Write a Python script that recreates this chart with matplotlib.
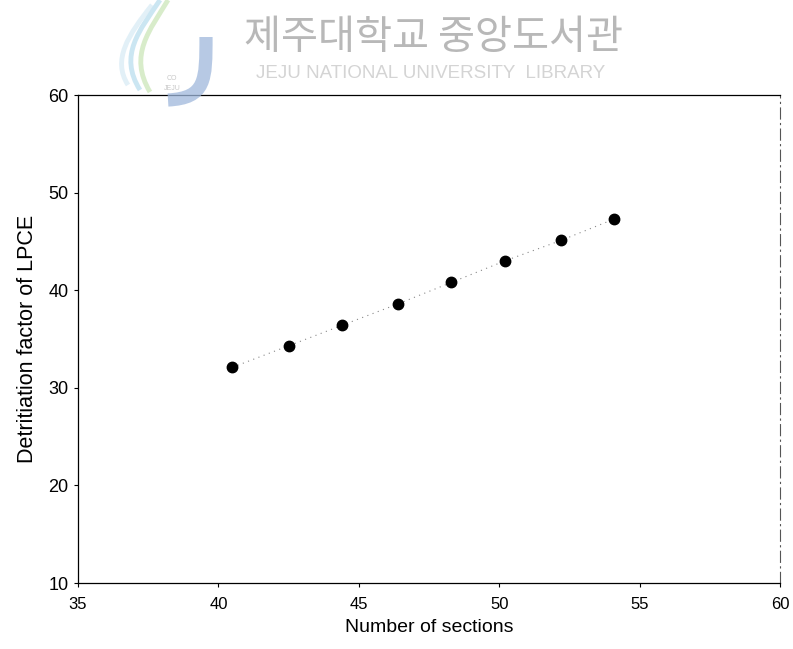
import matplotlib
matplotlib.use('Agg')
import numpy as np
from matplotlib import pyplot as plt
from matplotlib.path import Path
from matplotlib.patches import PathPatch

# values
sections = [40.5, 42.5, 44.4, 46.4, 48.3, 50.2, 52.2, 54.1]
detritiation = [32.1, 34.3, 36.4, 38.6, 40.8, 43.0, 45.1, 47.3]

x_ticks = [35, 40, 45, 50, 55, 60]
y_ticks = [10, 20, 30, 40, 50, 60]

W, H = 793, 649
fig = plt.figure(figsize=(W / 100, H / 100), dpi=100)
ax = fig.add_axes([78 / W, 1 - 583 / H, 702 / W, 488 / H])

# dotted trend line + filled markers
ax.plot(sections, detritiation, ls=(0, (1, 4)), color='#888888', lw=0.8, zorder=2)
ax.plot(sections, detritiation, 'o', color='black', ms=7.5, ls='none', zorder=3)

ax.set_xlim(35, 60)
ax.set_ylim(10, 60)
ax.set_xticks(x_ticks)
ax.set_yticks(y_ticks)
ax.tick_params(direction='out', length=3, width=0.8, colors='black')
ax.tick_params(axis='x', pad=7, labelsize=12)
ax.tick_params(axis='y', pad=4, labelsize=13)
for lab in ax.get_xticklabels() + ax.get_yticklabels():
    lab.set_family('Liberation Sans')

for side in ['left', 'top', 'bottom']:
    ax.spines[side].set_linewidth(0.9)
    ax.spines[side].set_color('black')
ax.spines['right'].set_linewidth(0.8)
ax.spines['right'].set_color('#555555')
ax.spines['right'].set_linestyle((0, (10, 4, 1, 4)))

ax.set_xlabel('Number of sections', fontsize=14, family='Liberation Sans', labelpad=5)
ax.set_ylabel('Detritiation factor of LPCE', fontsize=15.5, family='Liberation Sans', labelpad=7)

# library watermark (text + rough logo)
fig.text(434 / W, 1 - 38 / H, '제주대학교 중앙도서관', ha='center', va='center',
         fontsize=29, color='#b8b8b8', family=['Noto Sans CJK KR', 'DejaVu Sans'])
fig.text(431 / W, 1 - 73 / H, 'JEJU NATIONAL UNIVERSITY  LIBRARY', ha='center', va='center',
         fontsize=13.5, color='#d4d4d4', family='Liberation Sans')


def px(points):
    return [(p[0] / W, 1 - p[1] / H) for p in points]


def stroke(points, codes, color, lw, alpha=0.6):
    patch = PathPatch(Path(px(points), codes), transform=fig.transFigure,
                      fill=False, edgecolor=color, lw=lw, capstyle='butt', alpha=alpha)
    fig.add_artist(patch)


C = Path.CURVE4
stroke([(206, 37), (206, 80), (206, 98), (168, 100)], [Path.MOVETO, C, C, C], '#9fb8dc', 9.5, 0.75)
stroke([(168, 0), (150, 30), (128, 55), (150, 92)], [Path.MOVETO, C, C, C], '#bfe0a8', 3.5)
stroke([(160, 0), (140, 30), (118, 55), (140, 90)], [Path.MOVETO, C, C, C], '#a9d6ea', 3.5)
stroke([(152, 5), (128, 35), (112, 60), (128, 85)], [Path.MOVETO, C, C, C], '#cfe6f3', 3.5)
fig.text(172 / W, 1 - 78 / H, 'CO', ha='center', va='center', fontsize=5,
         color='#c8c8c8', family='Liberation Sans')
fig.text(172 / W, 1 - 88 / H, 'JEJU', ha='center', va='center', fontsize=5,
         color='#c8c8c8', family='Liberation Sans')

fig.savefig('out.png', dpi=100)
plt.close(fig)
